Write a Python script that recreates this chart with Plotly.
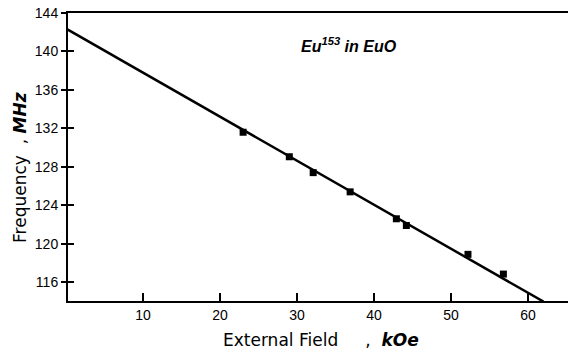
import plotly.graph_objects as go

# Data
field_kOe = [23.0, 29.0, 32.1, 36.9, 42.9, 44.2, 52.2, 56.8]
freq_MHz = [131.6, 129.05, 127.4, 125.4, 122.6, 121.9, 118.9, 116.85]
fit_x = [0.0, 62.0]
fit_y = [142.37, 113.99]
x_ticks = [10, 20, 30, 40, 50, 60]
y_ticks = [116, 120, 124, 128, 132, 136, 140, 144]

XR = [0.26, 65.19]
YR = [114.05, 144.0]

fig = go.Figure()
fig.add_trace(go.Scatter(x=fit_x, y=fit_y, mode="lines",
                         line=dict(color="black", width=2.5),
                         showlegend=False, hoverinfo="skip", cliponaxis=True))
fig.add_trace(go.Scatter(x=field_kOe, y=freq_MHz, mode="markers",
                         marker=dict(symbol="square", size=7, color="black"),
                         showlegend=False))
# invisible trace to carry the overlay axis (inside tick marks)
fig.add_trace(go.Scatter(x=[XR[0]], y=[YR[0]], yaxis="y2", mode="markers",
                         marker=dict(size=1, opacity=0), showlegend=False,
                         hoverinfo="skip"))

tickfont = dict(family="Liberation Sans, Arial, sans-serif", size=14, color="black")

fig.update_layout(
    width=568, height=349,
    margin=dict(l=68, r=0, t=13, b=48),
    paper_bgcolor="white", plot_bgcolor="white",
    xaxis=dict(range=XR, tickvals=x_ticks, ticks="inside", ticklen=8,
               tickwidth=1.5, tickcolor="black", showline=True, linecolor="black",
               linewidth=2, mirror=True, showgrid=False, zeroline=False,
               tickfont=dict(family="Liberation Sans, Arial, sans-serif", size=14,
                             color="black")),
    yaxis=dict(range=YR, tickvals=y_ticks, ticks="outside", ticklen=5,
               tickwidth=1.5, tickcolor="black", showline=True, linecolor="black",
               linewidth=2, showgrid=False, zeroline=False, tickfont=tickfont,
               ticklabelstandoff=0),
    yaxis2=dict(range=YR, overlaying="y", side="left", tickvals=y_ticks,
                ticks="inside", ticklen=6, tickwidth=1.5, tickcolor="black",
                showticklabels=False, showline=False, showgrid=False,
                zeroline=False),
    annotations=[
        dict(text="External Field\u00a0\u00a0\u00a0\u00a0\u00a0,\u00a0\u00a0<b><i>kOe</i></b>",
             xref="paper", yref="paper", x=0.505, y=-0.135,
             xanchor="center", yanchor="middle", showarrow=False,
             font=dict(family="DejaVu Sans, sans-serif", size=17, color="black")),
        dict(text="Frequency\u00a0\u00a0,\u00a0<b><i>MHz</i></b>",
             xref="paper", yref="paper", x=-0.096, y=0.462, textangle=-90,
             xanchor="center", yanchor="middle", showarrow=False,
             font=dict(family="DejaVu Sans, sans-serif", size=17, color="black")),
        dict(text="<b><i>Eu<sup>153</sup> in EuO</i></b>",
             xref="paper", yref="paper", x=0.561, y=0.889,
             xanchor="center", yanchor="middle", showarrow=False,
             font=dict(family="Liberation Sans, Arial, sans-serif", size=16,
                       color="black")),
    ],
)

fig.write_html("out.html")
